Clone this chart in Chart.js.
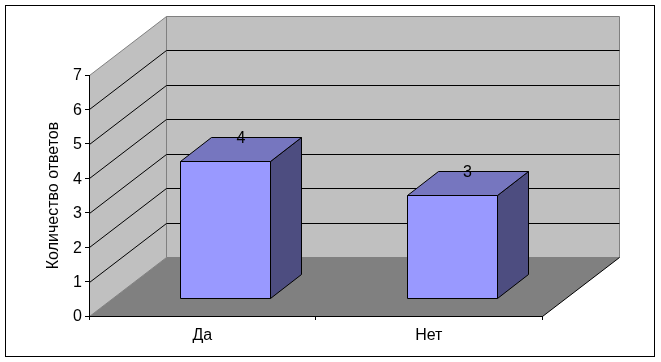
<!DOCTYPE html>
<html>
<head>
<meta charset="utf-8">
<style>
  html, body { margin: 0; padding: 0; background: #fff; }
  #wrap { width: 661px; height: 362px; }
</style>
<script src="https://cdn.jsdelivr.net/npm/chart.js@4"></script>
</head>
<body>
<div id="wrap"><canvas id="myChart1" width="661" height="362"></canvas></div>
<script>
// Data
const categories = ['Да', 'Нет'];
const answers = [4, 3];
const yTitle = 'Количество ответов';

const FONT = '"Liberation Sans", Arial, sans-serif';

// Excel style 3D look: how far the back wall sits from the axes
const depthX = 77;
const depthY = 59;
// bars stand from 0.3 to 0.7 of the floor depth
const barStart = 0.3;
const barDepth = 0.4;

function poly(ctx, pts, fill, stroke) {
  ctx.beginPath();
  pts.forEach((p, i) => i ? ctx.lineTo(p[0], p[1]) : ctx.moveTo(p[0], p[1]));
  ctx.closePath();
  if (fill) { ctx.fillStyle = fill; ctx.fill(); }
  if (stroke) { ctx.strokeStyle = stroke; ctx.lineWidth = 1; ctx.stroke(); }
}

const box3d = {
  id: 'box3d',
  // frame, walls, floor and the gridlines on the walls
  beforeDraw(chart) {
    const ctx = chart.ctx;
    const y = chart.scales.y;
    const a = chart.chartArea;
    const l = a.left + 0.5, r = a.right + 0.5;
    const t = y.getPixelForValue(y.max) + 0.5, b = y.getPixelForValue(0) + 0.5;

    ctx.save();
    ctx.strokeStyle = '#000';
    ctx.lineWidth = 1;
    ctx.strokeRect(5.5, 5.5, 649, 351);

    poly(ctx, [[l + depthX, t - depthY], [r + depthX, t - depthY], [r + depthX, b - depthY], [l + depthX, b - depthY]], '#C0C0C0', '#808080');
    poly(ctx, [[l, t], [l + depthX, t - depthY], [l + depthX, b - depthY], [l, b]], '#C0C0C0', '#808080');
    poly(ctx, [[l, b], [l + depthX, b - depthY], [r + depthX, b - depthY], [r, b]], '#808080');

    ctx.strokeStyle = '#000';
    ctx.beginPath();
    y.ticks.forEach(tk => {
      if (tk.value === y.min || tk.value === y.max) return;
      const py = Math.round(y.getPixelForValue(tk.value)) + 0.5;
      ctx.moveTo(l, py);
      ctx.lineTo(l + depthX, py - depthY);
      ctx.lineTo(r + depthX, py - depthY);
    });
    ctx.moveTo(r, b);
    ctx.lineTo(r + depthX, b - depthY);
    ctx.stroke();
    ctx.restore();
  },
  // the bar elements give position and size, the faces are drawn here
  beforeDatasetDraw(chart, args) {
    const ctx = chart.ctx;
    const ox = depthX * barStart, oy = depthY * barStart;
    const dx = Math.round(depthX * barDepth), dy = Math.round(depthY * barDepth);
    ctx.save();
    args.meta.data.forEach((el, i) => {
      const x0 = Math.round(el.x - el.width / 2 + ox) + 0.5;
      const x1 = x0 + Math.floor(el.width);
      const top = Math.round(el.y - oy) + 0.5;
      const bot = Math.round(el.base - oy) + 0.5;
      poly(ctx, [[x1, top], [x1 + dx, top - dy], [x1 + dx, bot - dy], [x1, bot]], '#4D4D80', '#000');
      poly(ctx, [[x0, top], [x0 + dx, top - dy], [x1 + dx, top - dy], [x1, top]], '#7676BF', '#000');
      poly(ctx, [[x0, top], [x1, top], [x1, bot], [x0, bot]], '#9999FF', '#000');
    });
    ctx.fillStyle = '#000';
    ctx.font = '16px ' + FONT;
    ctx.textAlign = 'center';
    ctx.textBaseline = 'middle';
    args.meta.data.forEach((el, i) => {
      const top = Math.round(el.y - oy) + 0.5;
      ctx.fillText(String(answers[i]), el.x + ox + dx / 2, top - dy + 1);
    });
    ctx.restore();
    return false;
  }
};

new Chart(document.getElementById('myChart1').getContext('2d'), {
  type: 'bar',
  plugins: [box3d],
  data: {
    labels: categories,
    datasets: [{
      label: yTitle,
      data: answers,
      backgroundColor: '#9999FF',
      borderColor: '#000',
      borderWidth: 1,
      barPercentage: 0.4,
      categoryPercentage: 1
    }]
  },
  options: {
    responsive: false,
    animation: false,
    layout: { padding: { top: 75, right: 119, left: 0, bottom: 0 } },
    plugins: { legend: { display: false }, tooltip: { enabled: false }, title: { display: false } },
    scales: {
      x: {
        afterFit(s) { s.height = 46; },
        grid: { drawOnChartArea: false, color: '#000', tickLength: 4 },
        border: { color: '#000' },
        ticks: { color: '#000', font: { family: FONT, size: 16 }, padding: 6, maxRotation: 0 }
      },
      y: {
        min: 0,
        max: 7,
        afterFit(s) { s.width = 89; },
        grid: { drawOnChartArea: false, color: '#000', tickLength: 4 },
        border: { color: '#000' },
        ticks: { stepSize: 1, color: '#000', font: { family: FONT, size: 16 }, padding: 3, labelOffset: 1 },
        title: {
          display: true,
          text: yTitle,
          color: '#000',
          font: { family: FONT, size: 16 },
          padding: { top: 44, bottom: 0 }
        }
      }
    }
  }
});
</script>
</body>
</html>
